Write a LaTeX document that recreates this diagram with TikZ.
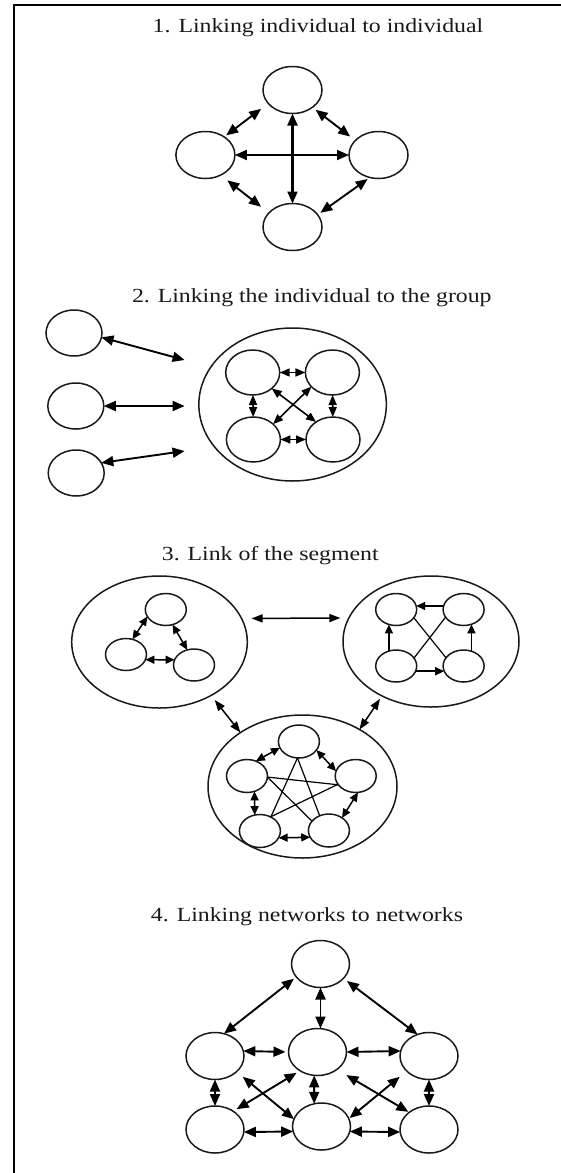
\documentclass[tikz,border=0pt]{standalone}
\usepackage{fontspec}
\setmainfont{Liberation Serif}
\usetikzlibrary{shapes.geometric,arrows.meta}
\begin{document}
\begin{tikzpicture}[x=1pt,y=-1pt,
  el/.style 2 args={draw=black!90, line width=1.5pt, ellipse, inner sep=0pt, outer sep=0pt,
    minimum width=#1pt, minimum height=#2pt},
  big/.style={line width=1.9pt, {Triangle[length=12pt,width=10pt]}-{Triangle[length=12pt,width=10pt]}},
  mid/.style={line width=1.6pt, {Triangle[length=10pt,width=8pt]}-{Triangle[length=10pt,width=8pt]}},
  med/.style={line width=1.5pt, {Triangle[length=11pt,width=8pt]}-{Triangle[length=11pt,width=8pt]}},
  sm/.style={line width=1.5pt, {Triangle[length=9pt,width=8pt]}-{Triangle[length=9pt,width=8pt]}},
  one/.style={line width=1.5pt, -{Triangle[length=9pt,width=8pt]}},
  thinln/.style={line width=1.2pt},
  ttl/.style={anchor=base, font=\fontsize{20}{24}\selectfont, text=black!90, inner sep=0pt}
]
\useasboundingbox (0,0) rectangle (561,1173);
\fill[white] (0,0) rectangle (561,1173);
\draw[line width=2pt] (14.3,1173) -- (14.3,5.2) -- (561,5.2);

% titles
\node[ttl] (t1) at (318,32.3) {\scalebox{1.19}[1]{1. Linking individual to individual}};
\node[ttl] (t2) at (311.8,302) {\scalebox{1.19}[1]{2. Linking the individual to the group}};
\node[ttl] (t3) at (270.3,560) {\scalebox{1.19}[1]{3. Link of the segment}};
\node[ttl] (t4) at (307,921.7) {\scalebox{1.19}[1]{4. Linking networks to networks}};

% ---------- section 1
\node[el={59}{47}] (a1) at (292.5,90) {};
\node[el={59}{47}] (a2) at (205.4,155) {};
\node[el={59}{47}] (a3) at (378.5,155) {};
\node[el={59}{47}] (a4) at (292.5,227) {};
\draw[big] (a2) -- (a3);
\draw[big, line width=2.2pt] (a1) -- (a4);
\draw[big, shorten <=2.5pt, shorten >=9pt] (a2.44) -- (a1.209);
\draw[big, shorten <=4pt, shorten >=6.5pt] (a1.-41.5) -- (a3.148);
\draw[big, shorten <=8.5pt, shorten >=10pt] (a2.-53) -- (a4.149.5);
\draw[big, shorten <=2.7pt, shorten >=3.3pt] (a3.249) -- (a4.26.6);

% ---------- section 2
\node[el={56}{46}] (b1) at (74,333) {};
\node[el={56}{46}] (b2) at (75.8,406) {};
\node[el={56}{46}] (b3) at (76.2,473) {};
\node[el={187.5}{153}] (bg) at (292.6,404.5) {};
\coordinate (g1) at (184.6,360);
\coordinate (g2) at (184.6,406);
\coordinate (g3) at (184.6,451);
\draw[big] (b1.-9.5) -- (g1);
\draw[big] (b2) -- (g2);
\draw[big] (b3.22) -- (g3);
\node[el={54}{45}] (c1) at (252.7,372.5) {};
\node[el={54}{45}] (c2) at (332.4,372.5) {};
\node[el={54}{45}] (c3) at (253.4,439.5) {};
\node[el={54}{45}] (c4) at (333,439.5) {};
\draw[mid] (c1) -- (c2);
\draw[mid] (c3) -- (c4);
\draw[mid] (c1) -- (c3);
\draw[mid] (c2) -- (c4);
\draw[mid] (c1.-40.6) -- (c4.134.9);
\draw[mid] (c2.214.7) -- (c3.38.2);

% ---------- section 3
\node[el={175.6}{132}] (s1) at (159.5,642) {};
\node[el={176}{131}] (s2) at (431,641.5) {};
\node[el={189}{143}] (s3) at (302.5,786.5) {};
\draw[med, shorten <=10pt, shorten >=8.5pt] (s1.16) -- (s2.164);
\draw[med, shorten <=5.8pt] (s1.-46.6) -- (s3.139);
\draw[med, shorten <=3.6pt] (s2.228.8) -- (s3.45.7);

\node[el={41}{32}] (u1) at (165.8,609.5) {};
\node[el={41}{32}] (u2) at (126,654.5) {};
\node[el={41}{32}] (u3) at (194,665) {};
\draw[sm] (u1.201) -- (u2.67.4);
\draw[sm] (u1.-66.6) -- (u3.114);
\draw[sm] (u2.-15) -- (u3.165);

\node[el={41}{32}] (v1) at (396.2,609.5) {};
\node[el={41}{32}] (v2) at (463.6,609.5) {};
\node[el={41}{32}] (v3) at (396.2,666) {};
\node[el={41}{32}] (v4) at (463.6,666) {};
\draw[one] (v2.170) -- (v1.10);
\draw[one] (v3.116) -- (v1.244);
\draw[one] (v4.62) -- (v2.298);
\draw[one] (v3.-15) -- (v4.195);
\draw[thinln] (v1.-25) -- (v4.155);
\draw[thinln] (v2.203) -- (v3.24);

\node[el={41}{33}] (w1) at (298.9,741.5) {};
\node[el={41}{33}] (w2) at (247,776) {};
\node[el={41}{33}] (w3) at (355.7,776) {};
\node[el={41}{33}] (w4) at (259.9,831) {};
\node[el={41}{33}] (w5) at (328.9,830.5) {};
\draw[sm] (w1.198) -- (w2.59.8);
\draw[sm] (w1.-26.3) -- (w3.166);
\draw[sm] (w2.-64) -- (w4.108.8);
\draw[sm] (w3.-82.7) -- (w5.44.3);
\draw[sm] (w4.-20) -- (w5.200);
\draw[thinln] (w1.-95) -- (w4.52.6);
\draw[thinln] (w1.-95) -- (w5.122.6);
\draw[thinln] (w2.-3) -- (w3.207.6);
\draw[thinln] (w2.-3) -- (w5.151);
\draw[thinln] (w3.205.6) -- (w4.53);

% ---------- section 4
\node[el={58}{47}] (n1) at (320.5,964) {};
\node[el={58}{47}] (n2) at (215,1056) {};
\node[el={58}{47}] (n3) at (317.5,1052) {};
\node[el={58}{47}] (n4) at (429,1056) {};
\node[el={58}{47}] (n5) at (215,1129.5) {};
\node[el={58}{47}] (n6) at (321.5,1126.5) {};
\node[el={58}{47}] (n7) at (429,1129.5) {};
\draw[big, shorten <=3pt] (n1.208) -- (n2.68);
\draw[big] (n1.south) -- (n1.south |- n3.north);
\draw[big, shorten <=4.4pt] (n1.-32) -- (n4.118);
\draw[big, shorten >=3pt] (n2.10) -- (n3.west);
\draw[big] (n3.east) -- (n4.170);
\draw[big] (n2.south) -- (n5.north);
\draw[big] (n3.262) -- (n6.108);
\draw[big] (n4.south) -- (n7.north);
\draw[big] (n5.-5) -- (n6.190);
\draw[big] (n6.-10) -- (n7.185);
\draw[big, shorten <=8pt] (n2.-36.2) -- (n6.165.7);
\draw[big, shorten <=4pt, shorten >=4pt] (n3.227.4) -- (n5.45.3);
\draw[big, shorten <=11pt, shorten >=1pt] (n3.-42.6) -- (n7.139.3);
\draw[big, shorten <=9pt, shorten >=1pt] (n4.214.9) -- (n6.16);
\end{tikzpicture}
\end{document}
